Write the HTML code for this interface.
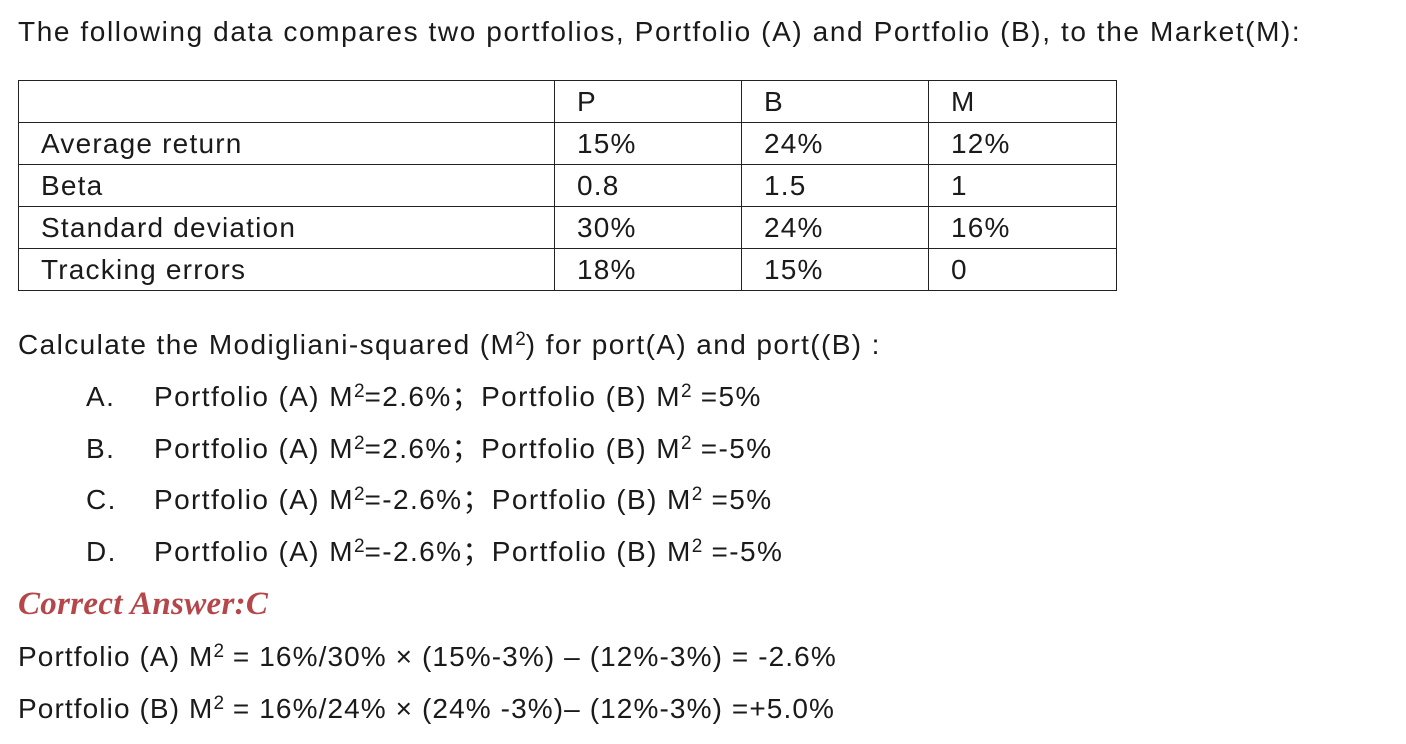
<!DOCTYPE html>
<html><head><meta charset="utf-8">
<style>
body{margin:0;width:1406px;height:744px;background:#fff;position:relative;overflow:hidden;font-family:"Liberation Sans","Noto Sans CJK SC",sans-serif;color:#1a1a1a}
.t{position:absolute;white-space:nowrap;font-size:28px;line-height:30px;letter-spacing:1.4px}
table{position:absolute;left:18px;top:80px;border-collapse:collapse;font-size:28px;letter-spacing:1.2px;table-layout:fixed;width:1098px}
td{border:1.5px solid #222;height:41px;padding:0 0 0 22px;vertical-align:middle;line-height:30px}
sup{font-size:19px;vertical-align:9px;line-height:0;letter-spacing:0}
.ans{color:#b5474b;font-family:"Liberation Serif",serif;font-style:italic;font-weight:bold;font-size:33px;letter-spacing:0.3px}
</style></head><body>
<div class="t" style="left:18px;top:17px;letter-spacing:1.6px">The following data compares two portfolios, Portfolio (A) and Portfolio (B), to the Market(M):</div>
<table>
<colgroup><col style="width:536px"><col style="width:187px"><col style="width:187px"><col style="width:188px"></colgroup>
<tr><td></td><td>P</td><td>B</td><td>M</td></tr>
<tr><td>Average return</td><td>15%</td><td>24%</td><td>12%</td></tr>
<tr><td>Beta</td><td>0.8</td><td>1.5</td><td>1</td></tr>
<tr><td>Standard deviation</td><td>30%</td><td>24%</td><td>16%</td></tr>
<tr><td>Tracking errors</td><td>18%</td><td>15%</td><td>0</td></tr>
</table>
<div class="t" style="left:18px;top:330px">Calculate the Modigliani-squared (M<sup>2</sup>) for port(A) and port((B) :</div>
<div class="t" style="left:86px;top:382px">A.</div>
<div class="t" style="left:154px;top:382px">Portfolio (A) M<sup>2</sup>=2.6%；Portfolio (B) M<sup>2</sup> =5%</div>
<div class="t" style="left:86px;top:434px">B.</div>
<div class="t" style="left:154px;top:434px">Portfolio (A) M<sup>2</sup>=2.6%；Portfolio (B) M<sup>2</sup> =-5%</div>
<div class="t" style="left:86px;top:485px">C.</div>
<div class="t" style="left:154px;top:485px">Portfolio (A) M<sup>2</sup>=-2.6%；Portfolio (B) M<sup>2</sup> =5%</div>
<div class="t" style="left:86px;top:537px">D.</div>
<div class="t" style="left:154px;top:537px">Portfolio (A) M<sup>2</sup>=-2.6%；Portfolio (B) M<sup>2</sup> =-5%</div>
<div class="t ans" style="left:18px;top:589px">Correct Answer:C</div>
<div class="t" style="left:18px;top:642px;letter-spacing:1.1px">Portfolio (A) M<sup>2</sup> = 16%/30% × (15%-3%) – (12%-3%) = -2.6%</div>
<div class="t" style="left:18px;top:694px;letter-spacing:1.1px">Portfolio (B) M<sup>2</sup> = 16%/24% × (24% -3%)– (12%-3%) =+5.0%</div>
</body></html>
